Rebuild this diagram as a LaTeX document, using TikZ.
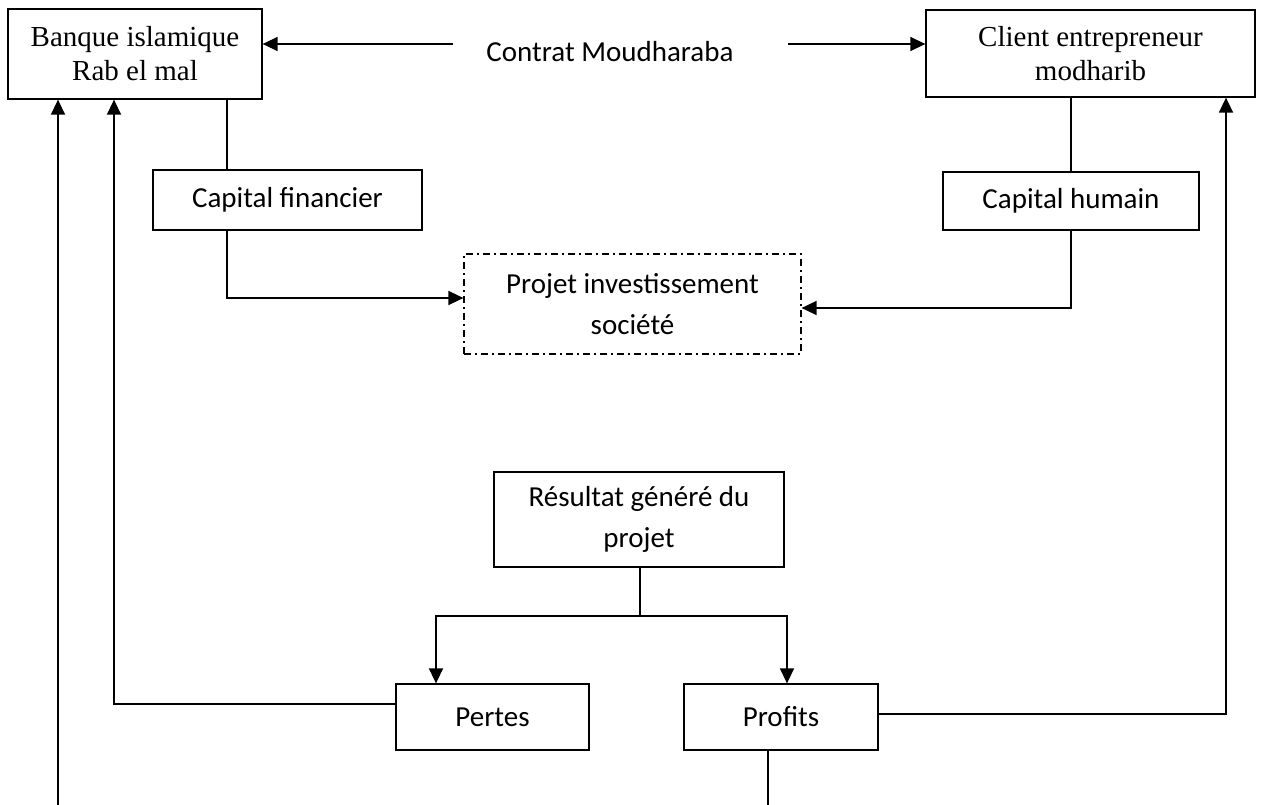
\documentclass[tikz,border=0pt]{standalone}
\usepackage{fontspec}
\setmainfont{Carlito}
\newfontfamily\tnr{Liberation Serif}
\usetikzlibrary{arrows.meta}

\tikzset{
  cbox/.style={draw, line width=1.3pt, inner sep=0pt, align=center,
    font=\fontsize{29}{41}\selectfont},
  tbox/.style={draw, line width=1.3pt, inner sep=0pt, align=center,
    font=\tnr\fontsize{29}{34}\selectfont},
  dashbox/.style={draw, line width=1.2pt, inner sep=0pt, align=center,
    dash pattern=on 7pt off 4pt on 2pt off 4pt,
    font=\fontsize{29}{41}\selectfont},
  link/.style={line width=1.3pt},
  arr/.style={line width=1.5pt, -{Triangle[length=15pt,width=14pt]}}
}

\begin{document}
\begin{tikzpicture}[x=1pt,y=-1pt]
\path[use as bounding box, fill=white] (0,0) rectangle (1264,805);

% partners
\node[tbox, minimum width=254pt, minimum height=90pt] (bank) at (135,54)
  {Banque islamique\\Rab el mal};
\node[tbox, minimum width=329pt, minimum height=87pt] (client) at (1090.5,53.5)
  {Client entrepreneur\\modharib};
\node[font=\fontsize{29}{35}\selectfont, inner sep=0pt] (contrat) at (610,52)
  {Contrat Moudharaba};

% contributions
\node[cbox, minimum width=269pt, minimum height=60pt] (cf) at (287.5,200)
  {Capital financier};
\node[cbox, minimum width=256pt, minimum height=58pt] (ch) at (1071,201)
  {Capital humain};
\node[dashbox, minimum width=337pt, minimum height=100pt] (proj) at (632.5,304)
  {Projet investissement\\soci\'et\'e};

% outcome
\node[cbox, minimum width=290pt, minimum height=95pt] (res) at (639,519.5)
  {R\'esultat g\'en\'er\'e du\\projet};
\node[cbox, minimum width=193pt, minimum height=66pt] (pertes) at (492.5,717)
  {Pertes};
\node[cbox, minimum width=194pt, minimum height=66pt] (profits) at (781,717)
  {Profits};

% contract arrows
\coordinate (cl) at (453,44);
\coordinate (cr) at (788,44);
\draw[arr] (cl) -- (cl -| bank.east);
\draw[arr] (cr) -- (cr -| client.west);

% capital flows into the project
\coordinate (fa) at (227,298);
\draw[link] (bank.south -| fa) -- (cf.north -| fa);
\draw[arr] (cf.south -| fa) -- (fa) -- (fa -| proj.west);
\coordinate (ha) at (1071,308);
\draw[link] (client.south -| ha) -- (ch.north -| ha);
\draw[arr] (ch.south -| ha) -- (ha) -- (ha -| proj.east);

% result split
\coordinate (jn) at (640,616);
\coordinate (jl) at (436,616);
\coordinate (jr) at (787,616);
\draw[link] (res.south -| jn) -- (jn);
\draw[arr] (jn) -- (jl) -- (jl |- pertes.north);
\draw[arr] (jn) -- (jr) -- (jr |- profits.north);

% losses back to the bank, profits to the client
\coordinate (pl) at (114,704);
\draw[arr] (pertes.west |- pl) -- (pl) -- (pl |- bank.south);
\coordinate (pr) at (1226,714);
\draw[arr] (profits.east |- pr) -- (pr) -- (pr |- client.south);

% profit share running off the bottom, and the bank's return
\coordinate (pb) at (768,805);
\draw[link] (profits.south -| pb) -- (pb);
\coordinate (lb) at (58,805);
\draw[arr] (lb) -- (lb |- bank.south);
\end{tikzpicture}
\end{document}
